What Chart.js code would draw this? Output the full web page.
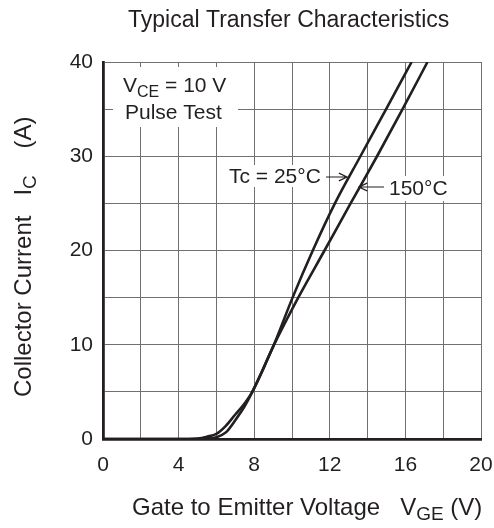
<!DOCTYPE html>
<html>
<head>
<meta charset="utf-8">
<script src="https://cdn.jsdelivr.net/npm/chart.js@4"></script>
<style>
  html, body { margin: 0; padding: 0; background: #fff; }
  #wrap { width: 494px; height: 528px; }
</style>
</head>
<body>
<div id="wrap"><canvas id="transfer-chart" width="494" height="528"></canvas></div>
<script>
// Tc = 25°C curve (VGE in V, IC in A)
var vge25 = [0, 5.0, 5.5,  6.0, 6.5, 7.0, 7.5, 7.9, 9.0, 10.03, 11.1, 12.27, 13.62, 14.98, 16.33];
var ic25  = [0, 0,   0.05, 0.2, 0.7, 2.0, 3.5, 5.0, 9.8, 15,    20,   25,    30,    35,    40];
// Tc = 150°C curve
var vge150 = [0, 4.5, 5.0,  5.5,  6.0,  6.5, 7.0, 7.5, 7.9, 9.0, 10.33, 11.72, 13.1, 14.5, 15.85, 17.17];
var ic150  = [0, 0,   0.05, 0.25, 0.55, 1.4, 2.6, 3.8, 5.0, 9.8, 15,    20,    25,   30,   35,    40];
// tick labels
var xTicks = [0, 4, 8, 12, 16, 20];
var yTicks = [0, 10, 20, 30, 40];

var FONT = '"Liberation Sans", Arial, sans-serif';
var ink = '#231f20';

function pts(xs, ys) {
    return xs.map(function (x, i) { return {x: x, y: ys[i]}; });
}

// text with subscript parts: [[text, isSub], ...]
function subText(ctx, parts, x, y, size, align) {
    var sub = Math.round(size * 0.78);
    var w = 0;
    parts.forEach(function (p) {
        ctx.font = (p[1] ? sub : size) + 'px ' + FONT;
        w += ctx.measureText(p[0]).width;
    });
    var cx = align === 'center' ? x - w / 2 : x;
    ctx.textAlign = 'left';
    ctx.textBaseline = 'alphabetic';
    parts.forEach(function (p) {
        ctx.font = (p[1] ? sub : size) + 'px ' + FONT;
        ctx.fillText(p[0], cx, p[1] ? y + size * 0.22 : y);
        cx += ctx.measureText(p[0]).width;
    });
}

function arrow(ctx, x1, y1, x2, y2) {
    var a = Math.atan2(y2 - y1, x2 - x1), h = 9;
    ctx.beginPath();
    ctx.moveTo(x1, y1); ctx.lineTo(x2, y2);
    ctx.moveTo(x2 - h * Math.cos(a - 0.45), y2 - h * Math.sin(a - 0.45));
    ctx.lineTo(x2, y2);
    ctx.lineTo(x2 - h * Math.cos(a + 0.45), y2 - h * Math.sin(a + 0.45));
    ctx.stroke();
}

var labels = {
    id: 'labels',
    beforeDatasetsDraw: function (chart) {
        var ctx = chart.ctx;
        ctx.save();
        ctx.fillStyle = '#fff';
        ctx.fillRect(113, 67, 125, 60);   // VCE / Pulse Test
        ctx.fillRect(226, 165, 98, 22);   // Tc = 25°C
        ctx.fillRect(385, 176, 68, 25);   // 150°C
        ctx.restore();
    },
    afterDraw: function (chart) {
        var ctx = chart.ctx;
        ctx.save();
        ctx.fillStyle = ink;
        ctx.strokeStyle = ink;
        ctx.lineWidth = 1.2;
        // title
        subText(ctx, [['Typical Transfer Characteristics', false]], 128, 27, 23, 'left');
        // axis titles
        subText(ctx, [['Gate to Emitter Voltage   V', false], ['GE', true], [' (V)', false]], 132, 515, 24, 'left');
        ctx.save();
        ctx.translate(31, 397);
        ctx.rotate(-Math.PI / 2);
        subText(ctx, [['Collector Current   I', false], ['C', true], ['    (A)', false]], 0, 0, 24, 'left');
        ctx.restore();
        // notes
        subText(ctx, [['V', false], ['CE', true], [' = 10 V', false]], 123, 92, 21, 'left');
        subText(ctx, [['Pulse Test', false]], 125, 119, 21, 'left');
        subText(ctx, [['Tc = 25\u00b0C', false]], 229, 183, 21, 'left');
        subText(ctx, [['150\u00b0C', false]], 389, 195, 21, 'left');
        arrow(ctx, 326, 177, 347, 177);
        arrow(ctx, 384, 187, 359, 187);
        ctx.restore();
    }
};

var ctx = document.getElementById('transfer-chart').getContext('2d');
new Chart(ctx, {
    type: 'scatter',
    data: {
        datasets: [
            {
                label: 'Tc = 25°C',
                data: pts(vge25, ic25),
                showLine: true,
                borderColor: ink,
                borderWidth: 2.6,
                pointRadius: 0,
                cubicInterpolationMode: 'monotone'
            },
            {
                label: 'Tc = 150°C',
                data: pts(vge150, ic150),
                showLine: true,
                borderColor: ink,
                borderWidth: 2.6,
                pointRadius: 0,
                cubicInterpolationMode: 'monotone'
            }
        ]
    },
    options: {
        responsive: false,
        animation: false,
        layout: { padding: { left: 0, right: 13, top: 62, bottom: 0 } },
        plugins: { legend: { display: false }, tooltip: { enabled: false } },
        scales: {
            x: {
                type: 'linear', min: 0, max: 20,
                afterFit: function (s) { s.height = 89; s.paddingLeft = 0; s.paddingRight = 0; },
                afterBuildTicks: function (s) {
                    s.ticks = [0, 2, 4, 6, 8, 10, 12, 14, 16, 18, 20].map(function (v) { return {value: v}; });
                },
                ticks: {
                    color: ink, font: { family: FONT, size: 21 }, padding: 14, maxRotation: 0,
                    callback: function (v) { return xTicks.indexOf(v) >= 0 ? String(v) : ''; }
                },
                grid: { color: '#707070', lineWidth: 1, drawTicks: false },
                border: { color: ink, width: 2.8 }
            },
            y: {
                type: 'linear', min: 0, max: 40,
                afterFit: function (s) { s.width = 103; s.paddingTop = 0; s.paddingBottom = 0; },
                afterBuildTicks: function (s) {
                    s.ticks = [0, 5, 10, 15, 20, 25, 30, 35, 40].map(function (v) { return {value: v}; });
                },
                ticks: {
                    color: ink, font: { family: FONT, size: 21 }, padding: 10,
                    callback: function (v) { return yTicks.indexOf(v) >= 0 ? String(v) : ''; }
                },
                grid: { color: '#707070', lineWidth: 1, drawTicks: false },
                border: { color: ink, width: 2.8 }
            }
        }
    },
    plugins: [labels]
});
</script>
</body>
</html>
